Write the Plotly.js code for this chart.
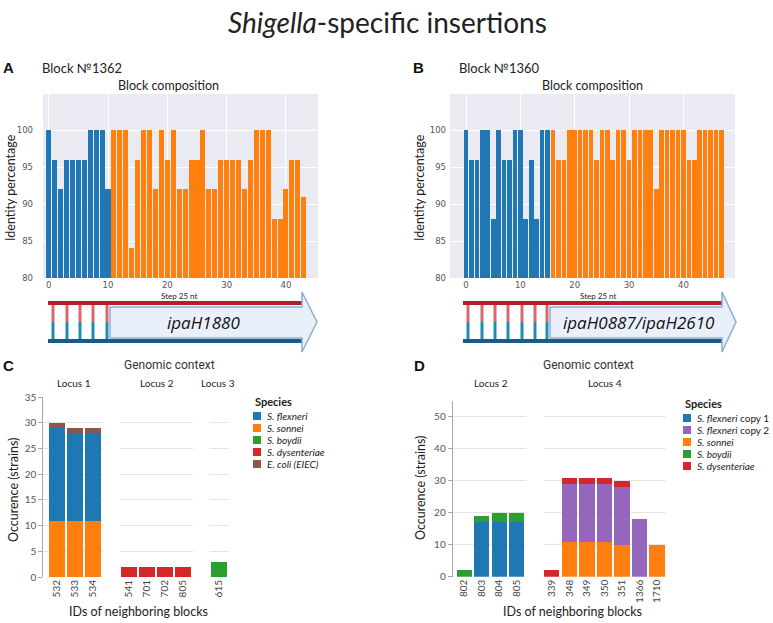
<!DOCTYPE html>
<html>
<head>
<meta charset="utf-8">
<script src="https://cdn.plot.ly/plotly-3.0.1.min.js"></script>
<style>html,body{margin:0;padding:0;background:#fff;}#chart{width:773px;height:623px;}</style>
</head>
<body>
<div id="chart"></div>
<script>
// ---------- DATA ----------
// Panel A: block 1362, identity percentage per 25-nt step
const aFlank = [100, 96, 92, 96, 96, 96, 96, 100, 100, 100, 92];
const aGene = [100, 100, 100, 84, 96, 100, 100, 92, 100, 96, 100, 92, 92, 96, 96, 100, 92, 92, 96, 96, 96, 96, 92, 96, 100, 100, 100, 88, 88, 92, 96, 96, 91];
// Panel B: block 1360
const bFlank = [100, 96, 96, 100, 100, 88, 100, 96, 96, 100, 100, 88, 96, 88, 100, 100];
const bGene = [100, 96, 96, 100, 100, 100, 100, 100, 96, 100, 100, 96, 100, 100, 96, 100, 100, 100, 100, 92, 100, 100, 100, 100, 100, 96, 96, 100, 100, 100, 100, 100];
const stepTicks = [0, 10, 20, 30, 40];
const identityTicks = [80, 85, 90, 95, 100];

// Panel C: genomic context of block 1362
const cIds = ['532', '533', '534', '541', '701', '702', '805', '615'];
const cLocus = ['Locus 1', 'Locus 1', 'Locus 1', 'Locus 2', 'Locus 2', 'Locus 2', 'Locus 2', 'Locus 3'];
const cLoci = ['Locus 1', 'Locus 2', 'Locus 3'];
const cSpecies = ['S. flexneri', 'S. sonnei', 'S. boydii', 'S. dysenteriae', 'E. coli (EIEC)'];
const cLabels = ['<i>S. flexneri</i>', '<i>S. sonnei</i>', '<i>S. boydii</i>', '<i>S. dysenteriae</i>', '<i>E. coli (EIEC)</i>'];
const cFlexneri = [18, 17, 17, 0, 0, 0, 0, 0];
const cSonnei = [11, 11, 11, 0, 0, 0, 0, 0];
const cBoydii = [0, 0, 0, 0, 0, 0, 0, 3];
const cDysenteriae = [0, 0, 0, 2, 2, 2, 2, 0];
const cEIEC = [1, 1, 1, 0, 0, 0, 0, 0];

// Panel D: genomic context of block 1360
const dIds = ['802', '803', '804', '805', '339', '348', '349', '350', '351', '1366', '1710'];
const dLocus = ['Locus 2', 'Locus 2', 'Locus 2', 'Locus 2', 'Locus 4', 'Locus 4', 'Locus 4', 'Locus 4', 'Locus 4', 'Locus 4', 'Locus 4'];
const dLoci = ['Locus 2', 'Locus 4'];
const dSpecies = ['S. flexneri copy 1', 'S. flexneri copy 2', 'S. sonnei', 'S. boydii', 'S. dysenteriae'];
const dLabels = ['<i>S. flexneri</i> copy 1', '<i>S. flexneri</i> copy 2', '<i>S. sonnei</i>', '<i>S. boydii</i>', '<i>S. dysenteriae</i>'];
const dFlex1 = [0, 17, 17, 17, 0, 0, 0, 0, 0, 0, 0];
const dFlex2 = [0, 0, 0, 0, 0, 18, 18, 18, 18, 18, 0];
const dSonnei = [0, 0, 0, 0, 0, 11, 11, 11, 10, 0, 10];
const dBoydii = [2, 2, 3, 3, 0, 0, 0, 0, 0, 0, 0];
const dDysenteriae = [0, 0, 0, 0, 2, 2, 2, 2, 2, 0, 0];

// ---------- STYLE ----------
const W = 773, H = 623;
const X = v => v / W;
const Y = v => 1 - v / H;
const FONT = 'Lato, "Open Sans", sans-serif';
const BLUE = '#1f77b4', ORANGE = '#ff7f0e', GREEN = '#2ca02c', RED = '#d62728', BROWN = '#8c564b', PURPLE = '#9467bd';
const cColors = {'S. flexneri': BLUE, 'S. sonnei': ORANGE, 'S. boydii': GREEN, 'S. dysenteriae': RED, 'E. coli (EIEC)': BROWN};
const dColors = {'S. flexneri copy 1': BLUE, 'S. flexneri copy 2': PURPLE, 'S. sonnei': ORANGE, 'S. boydii': GREEN, 'S. dysenteriae': RED};

const traces = [];
// A/B bars
function stepBars(vals, offset, color, xa, ya) {
  traces.push({type: 'bar', x: vals.map((_, i) => i + offset), y: vals, width: 0.85,
    marker: {color: color}, xaxis: xa, yaxis: ya, showlegend: false, hoverinfo: 'x+y'});
}
stepBars(aFlank, 0, BLUE, 'x', 'y');
stepBars(aGene, aFlank.length, ORANGE, 'x', 'y');
stepBars(bFlank, 0, BLUE, 'x2', 'y2');
stepBars(bGene, bFlank.length, ORANGE, 'x2', 'y2');

// C stacked bars (stack order bottom->top)
const cSeries = {'S. flexneri': cFlexneri, 'S. sonnei': cSonnei, 'S. boydii': cBoydii, 'S. dysenteriae': cDysenteriae, 'E. coli (EIEC)': cEIEC};
const cStackOrder = ['S. sonnei', 'S. flexneri', 'S. boydii', 'S. dysenteriae', 'E. coli (EIEC)'];
const cAxes = ['x3', 'x4', 'x5'];
cLoci.forEach((loc, li) => {
  cStackOrder.forEach(sp => {
    const xs = [], ys = [];
    cIds.forEach((id, i) => { if (cLocus[i] === loc && cSeries[sp][i] > 0) { xs.push(id); ys.push(cSeries[sp][i]); } });
    if (xs.length) traces.push({type: 'bar', name: sp, x: xs, y: ys, xaxis: cAxes[li], yaxis: 'y3',
      marker: {color: cColors[sp]}, showlegend: false});
  });
});
// D stacked bars
const dSeries = {'S. flexneri copy 1': dFlex1, 'S. flexneri copy 2': dFlex2, 'S. sonnei': dSonnei, 'S. boydii': dBoydii, 'S. dysenteriae': dDysenteriae};
const dStackOrder = ['S. sonnei', 'S. flexneri copy 1', 'S. flexneri copy 2', 'S. boydii', 'S. dysenteriae'];
const dAxes = ['x6', 'x7'];
dLoci.forEach((loc, li) => {
  dStackOrder.forEach(sp => {
    const xs = [], ys = [];
    dIds.forEach((id, i) => { if (dLocus[i] === loc && dSeries[sp][i] > 0) { xs.push(id); ys.push(dSeries[sp][i]); } });
    if (xs.length) traces.push({type: 'bar', name: sp, x: xs, y: ys, xaxis: dAxes[li], yaxis: 'y4',
      marker: {color: dColors[sp]}, showlegend: false});
  });
});

// ---------- AXES ----------
const tickGray = '#555';
function stepX(domain, range, anchor) {
  return {domain: domain, range: range, anchor: anchor, tickvals: stepTicks, showgrid: true, gridcolor: '#ffffff', gridwidth: 1,
    zeroline: false, showline: false, ticks: '', tickfont: {family: 'DejaVu Sans', size: 8.5, color: tickGray}, fixedrange: true};
}
function identY(domain, anchor, standoff) {
  return {domain: domain, range: [80, 104.9], anchor: anchor, tickvals: identityTicks, showgrid: true, gridcolor: '#ffffff', gridwidth: 1,
    zeroline: false, showline: false, ticks: '', ticklabelstandoff: standoff, tickfont: {family: 'DejaVu Sans', size: 8.5, color: tickGray}, fixedrange: true};
}
function catX(domain, range, anchor, cats) {
  return {domain: domain, range: range, anchor: anchor, type: 'category', categoryorder: 'array', categoryarray: cats,
    tickangle: -90, showgrid: false, zeroline: false, showline: false, ticks: '', tickfont: {family: FONT, size: 10, color: '#444'}, fixedrange: true};
}
function countY(domain, range, dtick, anchor) {
  return {domain: domain, range: range, dtick: dtick, anchor: anchor, showgrid: true, gridcolor: '#e4e4e4', zeroline: false,
    showline: true, linecolor: '#a0a8b0', linewidth: 1, ticks: 'outside', ticklen: 4, tickcolor: '#a0a8b0',
    tickfont: {family: FONT, size: 10, color: tickGray}, fixedrange: true};
}
const idsOf = (ids, loci, loc) => ids.filter((_, i) => loci[i] === loc);

const layout = {
  width: W, height: H, margin: {l: 0, r: 0, t: 0, b: 0},
  paper_bgcolor: '#ffffff', plot_bgcolor: 'rgba(0,0,0,0)',
  barmode: 'stack', bargap: 0.12, showlegend: false,
  font: {family: FONT, color: '#222'},
  xaxis: stepX([X(43), X(318)], [-0.96, 45.4], 'y'),
  yaxis: identY([Y(278), Y(94)], 'x', 9),
  xaxis2: stepX([X(450), X(735)], [-2.95, 49.5], 'y2'),
  yaxis2: identY([Y(278), Y(94)], 'x2', 3),
  xaxis3: catX([X(43.3), X(103.3)], [-0.76, 2.57], 'y3', idsOf(cIds, cLocus, 'Locus 1')),
  xaxis4: catX([X(120), X(192.7)], [-0.48, 3.54], 'y3', idsOf(cIds, cLocus, 'Locus 2')),
  xaxis5: catX([X(210), X(228.3)], [-0.5, 0.52], 'y3', idsOf(cIds, cLocus, 'Locus 3')),
  yaxis3: countY([Y(577), Y(397.3)], [0, 35], 5, 'x3'),
  xaxis6: catX([X(452.7), X(526)], [-0.66, 3.53], 'y4', idsOf(dIds, dLocus, 'Locus 2')),
  xaxis7: catX([X(544), X(666)], [-0.44, 6.5], 'y4', idsOf(dIds, dLocus, 'Locus 4')),
  yaxis4: countY([Y(576.7), Y(400.7)], [0, 55], 10, 'x6'),
  annotations: [],
  shapes: []
};

// ---------- TEXT ----------
function ann(text, x, y, size, opts) {
  layout.annotations.push(Object.assign({text: text, x: X(x), y: Y(y), xref: 'paper', yref: 'paper', showarrow: false,
    xanchor: 'center', yanchor: 'middle', font: {family: FONT, size: size, color: '#222'}}, opts || {}));
}
ann('<i>Shigella</i>-specific insertions', 387, 22, 28);
const LETTER = {family: 'Liberation Sans, Arial, sans-serif', size: 15, color: '#111', weight: 700};
ann('<b>A</b>', 8, 68, 15, {font: LETTER});
ann('<b>B</b>', 418, 68, 15, {font: LETTER});
ann('<b>C</b>', 8, 365, 15, {font: LETTER});
ann('<b>D</b>', 419, 365, 15, {font: LETTER});
ann('Block №1362', 40, 68, 13, {xanchor: 'left'});
ann('Block №1360', 457, 68, 13, {xanchor: 'left'});
ann('Block composition', 168, 86, 12.5);
ann('Block composition', 592, 86, 12.5);
ann('Identity percentage', 11, 188, 12.5, {textangle: -90});
ann('Identity percentage', 420, 188, 12.5, {textangle: -90});
ann('Step 25 nt', 179, 296, 8);
ann('Step 25 nt', 598, 296, 8);
ann('<i>ipaH1880</i>', 203, 322, 17, {font: {family: 'Open Sans, sans-serif', size: 17, color: '#111'}});
ann('<i>ipaH0887/ipaH2610</i>', 639, 322, 17, {font: {family: 'Open Sans, sans-serif', size: 17, color: '#111'}});
ann('Genomic context', 169, 365, 12, {font: {family: 'Roboto, sans-serif', size: 12, color: '#333'}});
ann('Genomic context', 588, 365, 12, {font: {family: 'Roboto, sans-serif', size: 12, color: '#333'}});
[['Locus 1', 74], ['Locus 2', 157], ['Locus 3', 218]].forEach(([t, x]) => ann(t, x, 383, 10));
[['Locus 2', 491], ['Locus 4', 605]].forEach(([t, x]) => ann(t, x, 383, 10));
ann('Occurence (strains)', 13, 490, 12.5, {textangle: -90});
ann('Occurence (strains)', 421, 488, 12.5, {textangle: -90});
ann('IDs of neighboring blocks', 138, 611, 12.5);
ann('IDs of neighboring blocks', 572, 611, 12.5);

// ---------- LEGENDS (manual, compact) ----------
function legend(x0, y0, species, labels, colors) {
  ann('<b>Species</b>', x0, y0, 11, {xanchor: 'left'});
  species.forEach((sp, i) => {
    const cy = y0 + 15 + i * 12;
    layout.shapes.push({type: 'rect', xref: 'paper', yref: 'paper', x0: X(x0), x1: X(x0 + 8), y0: Y(cy - 4), y1: Y(cy + 4),
      fillcolor: colors[sp], line: {width: 0}});
    ann(labels[i], x0 + 12, cy, 10, {xanchor: 'left', font: {family: FONT, size: 10, color: '#222'}});
  });
}
legend(253, 401, cSpecies, cLabels, cColors);
legend(683, 403, dSpecies, dLabels, dColors);

// ---------- BACKGROUNDS & GENE DIAGRAMS ----------
function rect(x0, y0, x1, y1, fill) {
  layout.shapes.push({type: 'rect', xref: 'paper', yref: 'paper', layer: 'below', x0: X(x0), x1: X(x1), y0: Y(y1), y1: Y(y0),
    fillcolor: fill, line: {width: 0}});
}
rect(43, 94, 318, 278, '#eaeaf2');
rect(450, 94, 735, 278, '#eaeaf2');

function seg(x0, y0, x1, y1, color, w) {
  layout.shapes.push({type: 'line', xref: 'paper', yref: 'paper', x0: X(x0), x1: X(x1), y0: Y(y0), y1: Y(y1), line: {color: color, width: w}});
}
function arrowPath(xs, xh, tip) {
  const pts = [[xs, 307], [xh, 307], [xh, 292], [tip, 322], [xh, 352], [xh, 338], [xs, 338]];
  return 'M ' + pts.map(p => X(p[0]).toFixed(5) + ',' + Y(p[1]).toFixed(5)).join(' L ') + ' Z';
}
function diagram(x0, xh, tip, xs, rungs) {
  seg(x0, 303, xh, 303, '#b0202a', 4);
  seg(x0, 341, xh, 341, '#1d5a86', 4);
  rungs.forEach(rx => {
    seg(rx, 305, rx, 322, '#e06468', 3);
    seg(rx, 322, rx, 339, '#1c8fb0', 3);
  });
  layout.shapes.push({type: 'path', xref: 'paper', yref: 'paper', path: arrowPath(xs, xh, tip),
    fillcolor: '#e9f0fa', line: {color: '#8faad6', width: 1.5}});
}
diagram(48, 302, 317, 110, [53, 67, 80, 93, 107]);
diagram(463, 722, 736, 550, [468, 482, 495, 508, 522, 535, 547]);

Plotly.newPlot('chart', traces, layout, {staticPlot: true, displayModeBar: false});
</script>
</body>
</html>
